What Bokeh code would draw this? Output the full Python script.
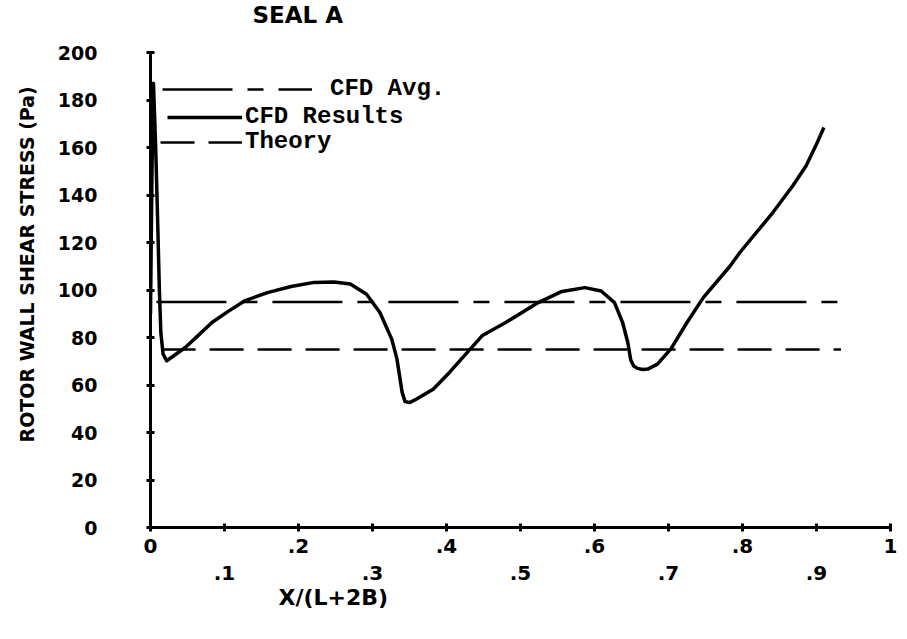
from bokeh.plotting import figure
from bokeh.models import (Range1d, LinearAxis, FixedTicker, Title, Legend,
                          LegendItem)
from bokeh.core.properties import value
from bokeh.embed import file_html
from bokeh.resources import INLINE

# ---- data ----
cfd_x = [0.000, 0.002, 0.004, 0.007, 0.010, 0.012, 0.014, 0.017, 0.022, 0.030,
         0.047, 0.065, 0.083, 0.105, 0.127, 0.158, 0.190, 0.221, 0.248, 0.270,
         0.292, 0.310, 0.326, 0.333, 0.337, 0.340, 0.344, 0.350, 0.359, 0.382,
         0.404, 0.426, 0.448, 0.480, 0.524, 0.556, 0.587, 0.609, 0.627, 0.638,
         0.645, 0.649, 0.653, 0.658, 0.665, 0.672, 0.685, 0.703, 0.725, 0.747,
         0.783, 0.797, 0.841, 0.868, 0.886, 0.899, 0.910]
cfd_y = [90.0, 150.0, 187.0, 160.0, 125.0, 100.0, 82.0, 73.0, 70.2, 72.0,
         75.8, 81.0, 86.3, 91.0, 95.4, 98.9, 101.5, 103.2, 103.4, 102.5,
         98.2, 90.5, 79.3, 71.0, 63.0, 57.0, 53.0, 52.6, 54.0, 58.2,
         65.3, 73.0, 80.7, 86.3, 94.7, 99.4, 101.0, 99.6, 94.7, 86.3,
         77.9, 70.5, 68.0, 67.0, 66.5, 66.7, 68.8, 75.1, 86.3, 96.8,
         110.0, 116.0, 132.6, 143.9, 152.3, 160.7, 168.4]
avg_x = [0.008, 0.933]
avg_y = [95.0, 95.0]
theory_x = [0.015, 0.933]
theory_y = [75.0, 75.0]

x_ticks_row1 = [0.0, 0.2, 0.4, 0.6, 0.8, 1.0]
x_labels_row1 = ["0", ".2", ".4", ".6", ".8", "1"]
x_ticks_row2 = [0.1, 0.3, 0.5, 0.7, 0.9]
x_labels_row2 = [".1", ".3", ".5", ".7", ".9"]
y_ticks = [0, 20, 40, 60, 80, 100, 120, 140, 160, 180, 200]
y_labels = ["0", "20", "40", "60", "80", "100", "120", "140", "160", "180", "200"]

FONT = "DejaVu Sans"
LEG_FONT = "Liberation Mono"

p = figure(width=897, height=623, x_range=Range1d(0, 1), y_range=Range1d(0, 200),
           output_backend="svg", toolbar_location=None,
           x_axis_type=None, y_axis_type=None,
           min_border_left=147, min_border_right=7, min_border_top=52,
           min_border_bottom=96, outline_line_color=None,
           background_fill_color="white", border_fill_color="white")
p.title.text = ""

def style_labels(ax, size):
    ax.major_label_text_font = FONT
    ax.major_label_text_font_size = size
    ax.major_label_text_font_style = "bold"
    ax.major_label_text_color = "black"

# blank spacer panel above the frame, so that the title sits high in the margin
p.add_layout(Title(text="\u00a0", standoff=0, text_font=FONT,
                   text_font_size="18px"), "above")
p.add_layout(Title(text="SEAL A", align="left", offset=102, standoff=0,
                   vertical_align="top", text_font=FONT, text_font_size="23px",
                   text_font_style="bold", text_color="black"), "above")

# ---- x axis: line + ticks + first label row ----
xa = LinearAxis(ticker=FixedTicker(ticks=x_ticks_row1, minor_ticks=x_ticks_row2),
                major_label_overrides=dict(zip(x_ticks_row1, x_labels_row1)))
xa.axis_line_width = 3
xa.axis_line_color = "black"
for pre in ("major", "minor"):
    setattr(xa, pre + "_tick_in", 4)
    setattr(xa, pre + "_tick_out", 4)
    setattr(xa, pre + "_tick_line_width", 3)
    setattr(xa, pre + "_tick_line_color", "black")
xa.major_label_standoff = 7
style_labels(xa, "20px")
p.add_layout(xa, "below")

# second label row
xb = LinearAxis(ticker=FixedTicker(ticks=x_ticks_row2),
                major_label_overrides=dict(zip(x_ticks_row2, x_labels_row2)))
xb.axis_line_color = None
xb.major_tick_line_color = None
xb.minor_tick_line_color = None
xb.major_tick_in = 0
xb.major_tick_out = 0
xb.minor_tick_in = 0
xb.minor_tick_out = 0
xb.major_label_standoff = 10
style_labels(xb, "20px")
p.add_layout(xb, "below")

p.add_layout(Title(text="X/(L+2B)", align="left", offset=128, standoff=0,
                   text_font=FONT, text_font_size="22px", text_font_style="bold",
                   text_color="black"), "below")

# ---- y axis ----
ya = LinearAxis(ticker=FixedTicker(ticks=y_ticks),
                major_label_overrides=dict(zip(y_ticks, y_labels)))
ya.axis_line_width = 3
ya.axis_line_color = "black"
ya.major_tick_out = 4
ya.major_tick_in = 4
ya.major_tick_line_width = 3
ya.major_tick_line_color = "black"
ya.minor_tick_line_color = None
ya.major_label_standoff = 49
ya.major_label_text_baseline = "alphabetic"
style_labels(ya, "19px")
p.add_layout(ya, "left")

p.add_layout(Title(text="ROTOR WALL SHEAR STRESS (Pa)", align="left", offset=85,
                   standoff=30, vertical_align="top", text_font=FONT,
                   text_font_size="19px", text_font_style="bold",
                   text_color="black"), "left")

# ---- series ----
r_avg = p.line(avg_x, avg_y, line_color="black", line_width=2.5, line_dash="70 15 16 15")
r_cfd = p.line(cfd_x, cfd_y, line_color="black", line_width=3.5, line_join="round")
r_th = p.line(theory_x, theory_y, line_color="black", line_width=2.5, line_dash="34 14")

def make_legend(label, rend, loc, gw, standoff):
    return Legend(items=[LegendItem(label=value(label), renderers=[rend])],
                  location=loc, glyph_width=gw, glyph_height=20, label_height=20,
                  label_standoff=standoff, padding=0, margin=0, spacing=0,
                  border_line_color=None, background_fill_alpha=0,
                  label_text_font=LEG_FONT, label_text_font_size="24px",
                  label_text_font_style="bold", label_text_color="black")

p.add_layout(make_legend("CFD Avg.", r_avg, (12, 425), 150, 18))
p.add_layout(make_legend("CFD Results", r_cfd, (17, 397), 75, 3))
p.add_layout(make_legend("Theory", r_th, (10, 372), 82, 3))

open("out.html", "w").write(file_html(p, INLINE))
